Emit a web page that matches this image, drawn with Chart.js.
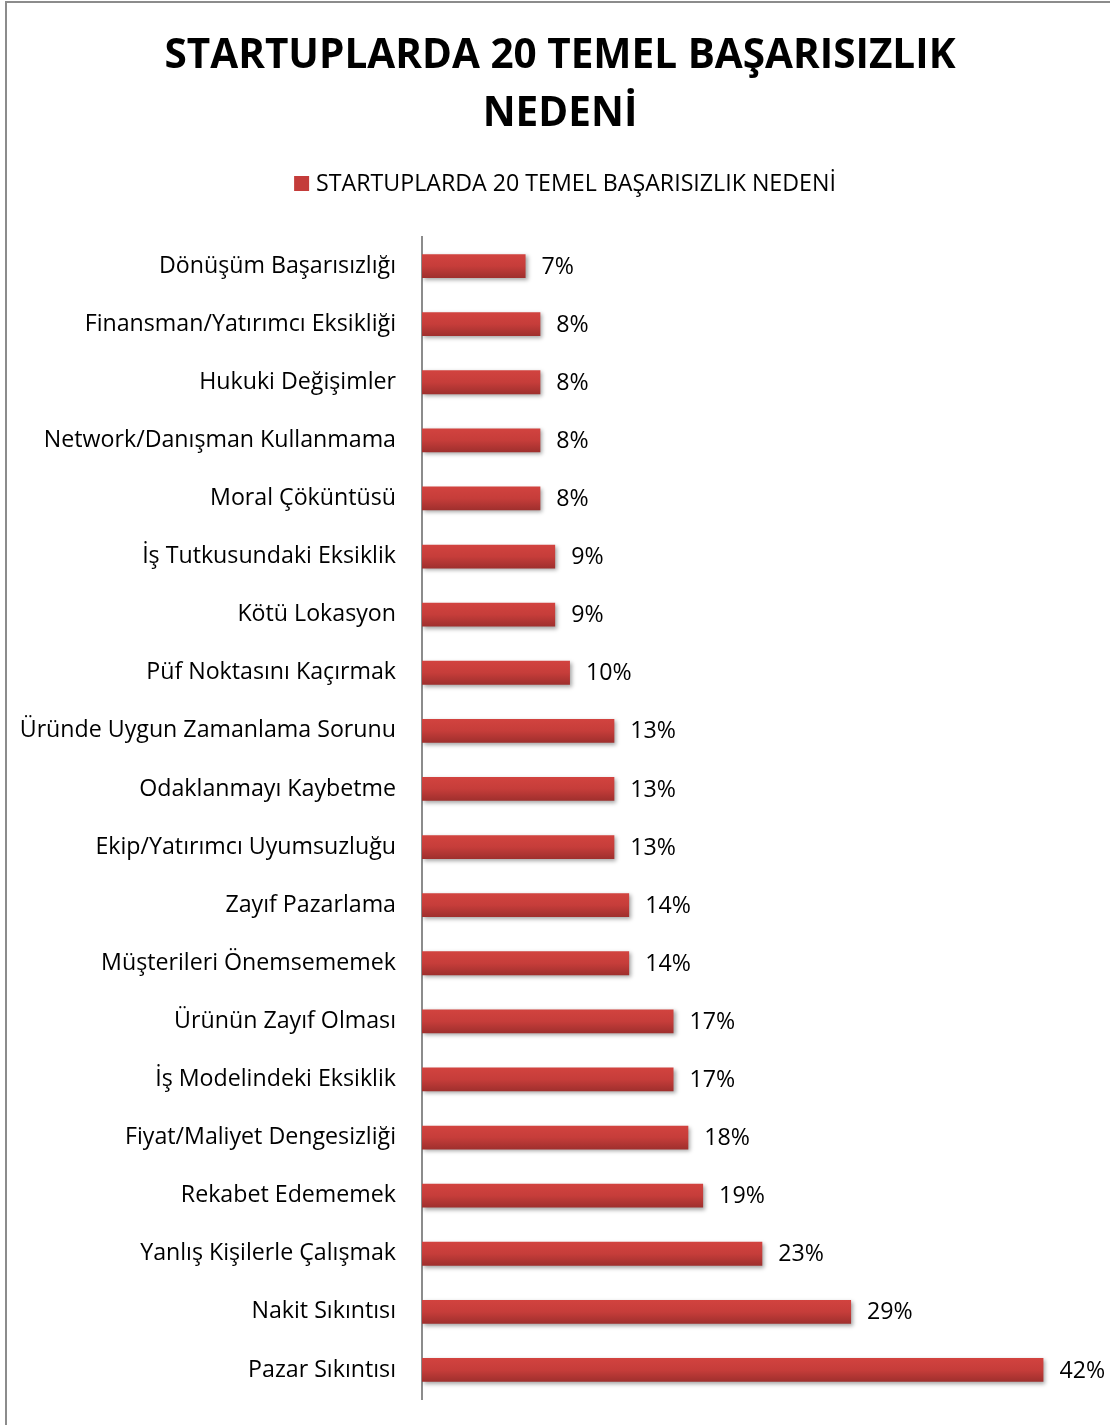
<!DOCTYPE html>
<html>
<head>
<meta charset="utf-8">
<script src="https://cdn.jsdelivr.net/npm/chart.js@4.4.1/dist/chart.umd.min.js"></script>
<style>
  body { margin: 0; background: #fff; }
  #cerceve { position: absolute; left: 5px; top: 1px; width: 1110px; height: 1430px; border: 2px solid #8c8c8c; box-sizing: border-box; }
  #kutu { position: absolute; left: 0; top: 0; width: 1110px; height: 1425px; }
</style>
</head>
<body>
<div id="cerceve"></div>
<div id="kutu"><canvas id="grafikNedenler"></canvas></div>
<script>
// veriler
var nedenler = [
  "Dönüşüm Başarısızlığı",
  "Finansman/Yatırımcı Eksikliği",
  "Hukuki Değişimler",
  "Network/Danışman Kullanmama",
  "Moral Çöküntüsü",
  "İş Tutkusundaki Eksiklik",
  "Kötü Lokasyon",
  "Püf Noktasını Kaçırmak",
  "Üründe Uygun Zamanlama Sorunu",
  "Odaklanmayı Kaybetme",
  "Ekip/Yatırımcı Uyumsuzluğu",
  "Zayıf Pazarlama",
  "Müşterileri Önemsememek",
  "Ürünün Zayıf Olması",
  "İş Modelindeki Eksiklik",
  "Fiyat/Maliyet Dengesizliği",
  "Rekabet Edememek",
  "Yanlış Kişilerle Çalışmak",
  "Nakit Sıkıntısı",
  "Pazar Sıkıntısı"
];
var oranlar = [7, 8, 8, 8, 8, 9, 9, 10, 13, 13, 13, 14, 14, 17, 17, 18, 19, 23, 29, 42];
var baslik = ["STARTUPLARDA 20 TEMEL BAŞARISIZLIK", "NEDENİ"];
var seriAdi = "STARTUPLARDA 20 TEMEL BAŞARISIZLIK NEDENİ";

var yazi = "'Open Sans', 'Noto Sans', sans-serif";
var yaziBoyu = 23.2;

// bar gölgesi
var golge = {
  id: "golge",
  beforeDatasetDraw: function (chart) {
    var ctx = chart.ctx;
    ctx.save();
    ctx.shadowColor = "rgba(0,0,0,0.35)";
    ctx.shadowBlur = 4;
    ctx.shadowOffsetX = 2;
    ctx.shadowOffsetY = 2;
  },
  afterDatasetDraw: function (chart) {
    chart.ctx.restore();
  }
};

// yüzde etiketleri + lejant
var etiketler = {
  id: "etiketler",
  afterDatasetsDraw: function (chart) {
    var ctx = chart.ctx;
    var meta = chart.getDatasetMeta(0);
    ctx.save();
    ctx.font = yaziBoyu + "px " + yazi;
    ctx.fillStyle = "#000";
    ctx.textBaseline = "middle";
    meta.data.forEach(function (bar, i) {
      ctx.fillText(oranlar[i] + "%", bar.x + 16, bar.y + 1);
    });

    // lejant
    var genislik = ctx.measureText(seriAdi).width;
    var toplam = 15 + 7 + genislik;
    var x0 = chart.width / 2 + 10 - toplam / 2;
    var y0 = 183;
    ctx.fillStyle = "#c43c3a";
    ctx.fillRect(x0, y0 - 7, 15, 15);
    ctx.fillStyle = "#000";
    ctx.fillText(seriAdi, x0 + 22, y0 + 1);
    ctx.restore();
  }
};

function barRengi(c) {
  var chart = c.chart;
  if (!chart.chartArea || c.dataIndex === undefined) return "#c43c3a";
  var y = chart.scales.y.getPixelForValue(c.dataIndex);
  var g = chart.ctx.createLinearGradient(0, y - 12, 0, y + 12);
  g.addColorStop(0, "#d2433f");
  g.addColorStop(0.5, "#c63d3a");
  g.addColorStop(1, "#9e2f2d");
  return g;
}

var ctxNedenler = document.getElementById("grafikNedenler");
new Chart(ctxNedenler, {
  type: "bar",
  data: {
    labels: nedenler,
    datasets: [{
      label: seriAdi,
      data: oranlar,
      backgroundColor: barRengi,
      categoryPercentage: 1,
      barPercentage: 0.41
    }]
  },
  plugins: [golge, etiketler],
  options: {
    indexAxis: "y",
    responsive: true,
    maintainAspectRatio: false,
    animation: false,
    layout: { padding: { left: 10, right: 0, top: 27, bottom: 26 } },
    plugins: {
      title: {
        display: true,
        text: baslik,
        color: "#000",
        font: { family: yazi, size: 40.5, weight: "bold", lineHeight: 1.432 },
        padding: { top: 0, bottom: 94 }
      },
      legend: { display: false },
      tooltip: { enabled: false }
    },
    scales: {
      x: { display: false, min: 0, max: 46.5 },
      y: {
        grid: { display: false, drawTicks: false },
        border: { display: true, color: "#8c8c8c", width: 2 },
        ticks: { color: "#000", font: { family: yazi, size: yaziBoyu }, padding: 26 },
        afterFit: function (scale) {
          scale.width = 412;
          scale.paddingTop = 0;
          scale.paddingBottom = 0;
        }
      }
    }
  }
});
</script>
</body>
</html>
